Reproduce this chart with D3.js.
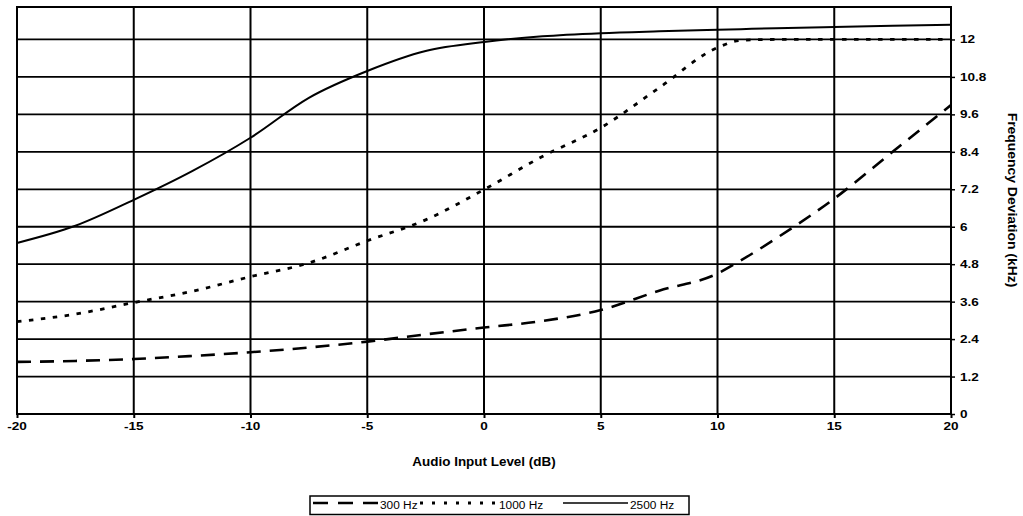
<!DOCTYPE html>
<html>
<head>
<meta charset="utf-8">
<script src="https://cdn.jsdelivr.net/npm/d3@7"></script>
<style>
  html, body { margin: 0; padding: 0; background: #fff; }
  svg { display: block; }
  text { font-family: Arial, "Liberation Sans", sans-serif; fill: #000; }
</style>
</head>
<body>
<svg id="chart" width="1023" height="516"></svg>
<script>
// ---- data ----
const xLevels = [-20, -17.5, -15, -12.5, -10, -7.5, -5, -2.5, 0, 2.5, 5, 7.5, 10, 11, 12.5, 15, 17.5, 20];
const hz300  = [1.67, 1.70, 1.76, 1.86, 1.98, 2.13, 2.32, 2.55, 2.77, 2.98, 3.33, 3.95, 4.50, 4.92, 5.62, 6.90, 8.40, 9.90];
const hz1000 = [2.96, 3.20, 3.57, 3.93, 4.40, 4.84, 5.55, 6.22, 7.19, 8.25, 9.17, 10.45, 11.74, 11.97, 12.0, 12.0, 12.0, 12.0];
const hz2500 = [5.48, 6.03, 6.86, 7.78, 8.85, 10.13, 10.99, 11.63, 11.92, 12.10, 12.20, 12.26, 12.31, 12.33, 12.36, 12.40, 12.44, 12.47];
const seriesNames = ["300 Hz", "1000 Hz", "2500 Hz"];
const xTicks = [-20, -15, -10, -5, 0, 5, 10, 15, 20];
const yTicks = [0, 1.2, 2.4, 3.6, 4.8, 6, 7.2, 8.4, 9.6, 10.8, 12];
const xTitle = "Audio Input Level (dB)";
const yTitle = "Frequency Deviation (kHz)";

// ---- layout ----
const plot = { left: 17, right: 951, top: 7, bottom: 414 };
const svg = d3.select("#chart");

const x = d3.scaleLinear().domain([-20, 20]).range([plot.left, plot.right]);
const y = d3.scaleLinear().domain([0, 13.04]).range([plot.bottom, plot.top]);

// grid lines
const grid = svg.append("g");
grid.selectAll("line.h").data(yTicks.filter(v => v > 0)).join("line")
  .attr("x1", plot.left).attr("x2", plot.right)
  .attr("y1", d => y(d)).attr("y2", d => y(d))
  .attr("stroke", "#000").attr("stroke-width", 1.8);
grid.selectAll("line.v").data(xTicks.slice(1, -1)).join("line")
  .attr("x1", d => x(d)).attr("x2", d => x(d))
  .attr("y1", plot.top).attr("y2", plot.bottom)
  .attr("stroke", "#000").attr("stroke-width", 2);

// plot border
svg.append("rect")
  .attr("x", plot.left).attr("y", plot.top)
  .attr("width", plot.right - plot.left).attr("height", plot.bottom - plot.top)
  .attr("fill", "none").attr("stroke", "#000").attr("stroke-width", 2);

// axes (ticks), labels drawn with horizontal stretch
function stretchedText(sel, sx) {
  sel.each(function () {
    const t = d3.select(this);
    const tx = +t.attr("data-x"), ty = +t.attr("data-y");
    t.attr("transform", `translate(${tx},${ty}) scale(${sx},1)`);
  });
}

const xAxis = svg.append("g").attr("transform", `translate(0,${plot.bottom})`)
  .call(d3.axisBottom(x).tickValues(xTicks).tickSize(4));
xAxis.select(".domain").remove();
xAxis.selectAll(".tick line").attr("stroke", "#000").attr("stroke-width", 2);
xAxis.selectAll(".tick text").remove();
svg.append("g").selectAll("text").data(xTicks).join("text")
  .attr("data-x", d => x(d)).attr("data-y", 430)
  .attr("text-anchor", "middle")
  .style("font-size", "11.5px").style("font-weight", "bold")
  .text(d => String(d))
  .call(stretchedText, 1.18);

const yAxis = svg.append("g").attr("transform", `translate(${plot.right},0)`)
  .call(d3.axisRight(y).tickValues(yTicks).tickSize(4));
yAxis.select(".domain").remove();
yAxis.selectAll(".tick line").attr("stroke", "#000").attr("stroke-width", 1.5);
yAxis.selectAll(".tick text").remove();
svg.append("g").selectAll("text").data(yTicks).join("text")
  .attr("data-x", 960).attr("data-y", d => y(d) + 4)
  .attr("text-anchor", "start")
  .style("font-size", "11.5px").style("font-weight", "bold")
  .text(d => String(d))
  .call(stretchedText, 1.18);

// axis titles
svg.append("text")
  .attr("transform", `translate(${(plot.left + plot.right) / 2},466) scale(1.12,1)`)
  .attr("text-anchor", "middle")
  .style("font-size", "12px").style("font-weight", "bold")
  .text(xTitle);
svg.append("text")
  .attr("transform", `translate(1008,200) rotate(90) scale(1.16,1)`)
  .attr("text-anchor", "middle")
  .style("font-size", "12px").style("font-weight", "bold")
  .text(yTitle);

// series
const styles = [
  { dash: "14,9", width: 2.6 },
  { dash: "4.5,7.5", width: 2.8 },
  { dash: null, width: 2 }
];
const allSeries = [hz300, hz1000, hz2500];
const line = d3.line()
  .x((d, i) => x(xLevels[i]))
  .y(d => y(d))
  .curve(d3.curveMonotoneX);

svg.append("g").selectAll("path").data(allSeries).join("path")
  .attr("d", d => line(d))
  .attr("fill", "none")
  .attr("stroke", "#000")
  .attr("stroke-width", (d, i) => styles[i].width)
  .attr("stroke-dasharray", (d, i) => styles[i].dash);

// legend
const legend = svg.append("g");
legend.append("rect")
  .attr("x", 310).attr("y", 496).attr("width", 379).attr("height", 18.5)
  .attr("fill", "#fff").attr("stroke", "#000").attr("stroke-width", 1.5);
const legendItems = [
  { x0: 313, x1: 378, tx: 380, dash: "15,10", width: 2.6 },
  { x0: 420, x1: 496, tx: 499, dash: "3,9", width: 2.8 },
  { x0: 563, x1: 628, tx: 630, dash: null, width: 1.5 }
];
seriesNames.forEach((name, i) => {
  const it = legendItems[i];
  legend.append("line")
    .attr("x1", it.x0).attr("x2", it.x1).attr("y1", 503).attr("y2", 503)
    .attr("stroke", "#000").attr("stroke-width", it.width)
    .attr("stroke-dasharray", it.dash);
  legend.append("text")
    .attr("transform", `translate(${it.tx},508.5) scale(1.08,1)`)
    .style("font-size", "11px")
    .text(name);
});
</script>
</body>
</html>
